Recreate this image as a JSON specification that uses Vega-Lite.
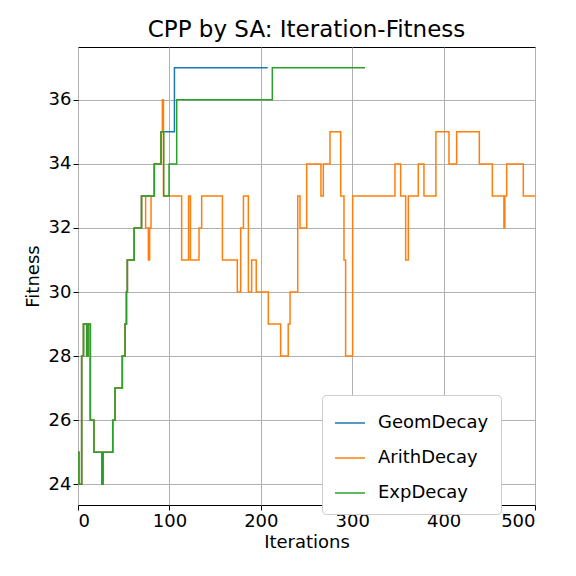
{
"$schema":"https://vega.github.io/schema/vega-lite/v6.json",
"width":457,"height":458,
"autosize":{"type":"none"},
"padding":{"left":78,"top":47,"right":41,"bottom":71},
"background":"white",
"title":{"text":"CPP by SA: Iteration-Fitness","fontSize":23,"font":"DejaVu Sans","fontWeight":"normal","offset":5,"color":"black"},
"config":{"view":{"stroke":"black","strokeWidth":1},"font":"DejaVu Sans"},
"data":{"values":[
{"s":"GeomDecay","x":0,"y":25},{"s":"GeomDecay","x":1,"y":24},{"s":"GeomDecay","x":4,"y":28},{"s":"GeomDecay","x":6,"y":29},{"s":"GeomDecay","x":9.5,"y":28},{"s":"GeomDecay","x":11,"y":29},{"s":"GeomDecay","x":13.5,"y":26},{"s":"GeomDecay","x":17.5,"y":25},{"s":"GeomDecay","x":26,"y":24},{"s":"GeomDecay","x":27.5,"y":25},{"s":"GeomDecay","x":38,"y":26},{"s":"GeomDecay","x":40.5,"y":27},{"s":"GeomDecay","x":48.5,"y":28},{"s":"GeomDecay","x":51.5,"y":29},{"s":"GeomDecay","x":53,"y":30},{"s":"GeomDecay","x":54,"y":31},{"s":"GeomDecay","x":61.5,"y":32},{"s":"GeomDecay","x":69.5,"y":33},{"s":"GeomDecay","x":83.5,"y":34},{"s":"GeomDecay","x":90.8,"y":35},{"s":"GeomDecay","x":105.5,"y":37},{"s":"GeomDecay","x":207.5,"y":37},

{"s":"ArithDecay","x":0,"y":25},{"s":"ArithDecay","x":1,"y":24},{"s":"ArithDecay","x":4,"y":28},{"s":"ArithDecay","x":6,"y":29},{"s":"ArithDecay","x":9.5,"y":28},{"s":"ArithDecay","x":11,"y":29},{"s":"ArithDecay","x":13.5,"y":26},{"s":"ArithDecay","x":17.5,"y":25},{"s":"ArithDecay","x":26,"y":24},{"s":"ArithDecay","x":27.5,"y":25},{"s":"ArithDecay","x":38,"y":26},{"s":"ArithDecay","x":40.5,"y":27},{"s":"ArithDecay","x":48.5,"y":28},{"s":"ArithDecay","x":51.5,"y":29},{"s":"ArithDecay","x":53,"y":30},{"s":"ArithDecay","x":54,"y":31},{"s":"ArithDecay","x":61.5,"y":32},{"s":"ArithDecay","x":69.5,"y":33},{"s":"ArithDecay","x":74,"y":32},{"s":"ArithDecay","x":77,"y":31},{"s":"ArithDecay","x":78.4,"y":32},{"s":"ArithDecay","x":79.9,"y":33},{"s":"ArithDecay","x":83.5,"y":34},{"s":"ArithDecay","x":90.8,"y":35},{"s":"ArithDecay","x":92.3,"y":36},{"s":"ArithDecay","x":93.5,"y":33},{"s":"ArithDecay","x":113.4,"y":31},{"s":"ArithDecay","x":121,"y":33},{"s":"ArithDecay","x":123,"y":31},{"s":"ArithDecay","x":132.4,"y":32},{"s":"ArithDecay","x":135.3,"y":33},{"s":"ArithDecay","x":158,"y":31},{"s":"ArithDecay","x":174.3,"y":30},{"s":"ArithDecay","x":178,"y":32},{"s":"ArithDecay","x":181,"y":33},{"s":"ArithDecay","x":186.4,"y":30},{"s":"ArithDecay","x":190,"y":31},{"s":"ArithDecay","x":195,"y":30},{"s":"ArithDecay","x":208.2,"y":29},{"s":"ArithDecay","x":221.7,"y":28},{"s":"ArithDecay","x":230,"y":29},{"s":"ArithDecay","x":232,"y":30},{"s":"ArithDecay","x":240.4,"y":33},{"s":"ArithDecay","x":242.9,"y":32},{"s":"ArithDecay","x":250.2,"y":34},{"s":"ArithDecay","x":265.8,"y":33},{"s":"ArithDecay","x":268.4,"y":34},{"s":"ArithDecay","x":275.7,"y":35},{"s":"ArithDecay","x":287.4,"y":33},{"s":"ArithDecay","x":291,"y":31},{"s":"ArithDecay","x":292.8,"y":28},{"s":"ArithDecay","x":300.5,"y":33},{"s":"ArithDecay","x":346.8,"y":34},{"s":"ArithDecay","x":353,"y":33},{"s":"ArithDecay","x":358.5,"y":31},{"s":"ArithDecay","x":361.4,"y":33},{"s":"ArithDecay","x":372.3,"y":34},{"s":"ArithDecay","x":378.5,"y":33},{"s":"ArithDecay","x":391.6,"y":35},{"s":"ArithDecay","x":405.9,"y":34},{"s":"ArithDecay","x":414.3,"y":35},{"s":"ArithDecay","x":439.1,"y":34},{"s":"ArithDecay","x":453.3,"y":33},{"s":"ArithDecay","x":466,"y":32},{"s":"ArithDecay","x":467,"y":33},{"s":"ArithDecay","x":469,"y":34},{"s":"ArithDecay","x":487.2,"y":33},{"s":"ArithDecay","x":500,"y":33},

{"s":"ExpDecay","x":0,"y":25},{"s":"ExpDecay","x":1,"y":24},{"s":"ExpDecay","x":4,"y":28},{"s":"ExpDecay","x":6,"y":29},{"s":"ExpDecay","x":9.5,"y":28},{"s":"ExpDecay","x":11,"y":29},{"s":"ExpDecay","x":13.5,"y":26},{"s":"ExpDecay","x":17.5,"y":25},{"s":"ExpDecay","x":26,"y":24},{"s":"ExpDecay","x":27.5,"y":25},{"s":"ExpDecay","x":38,"y":26},{"s":"ExpDecay","x":40.5,"y":27},{"s":"ExpDecay","x":48.5,"y":28},{"s":"ExpDecay","x":51.5,"y":29},{"s":"ExpDecay","x":53,"y":30},{"s":"ExpDecay","x":54,"y":31},{"s":"ExpDecay","x":61.5,"y":32},{"s":"ExpDecay","x":69.5,"y":33},{"s":"ExpDecay","x":83.5,"y":34},{"s":"ExpDecay","x":90.8,"y":35},{"s":"ExpDecay","x":93.8,"y":33},{"s":"ExpDecay","x":99.6,"y":34},{"s":"ExpDecay","x":108,"y":36},{"s":"ExpDecay","x":212.6,"y":37},{"s":"ExpDecay","x":314,"y":37}
]},
"mark":{"type":"line","interpolate":"step-after","strokeWidth":1.5,"clip":true},
"encoding":{
"x":{"field":"x","type":"quantitative","scale":{"domain":[0,500],"nice":false,"zero":false},"axis":{"title":"Iterations","values":[0,100,200,300,400,500],"titleFontSize":18,"titleFontWeight":"normal","labelFontSize":18,"gridColor":"#b0b0b0","gridOpacity":1,"domain":false,"tickColor":"black","labelColor":"black","titleColor":"black","titlePadding":3}},
"y":{"field":"y","type":"quantitative","scale":{"domain":[23.35,37.65],"nice":false,"zero":false},"axis":{"title":"Fitness","values":[24,26,28,30,32,34,36],"titleFontSize":18,"titleFontWeight":"normal","labelFontSize":18,"gridColor":"#b0b0b0","gridOpacity":1,"domain":false,"tickColor":"black","labelColor":"black","titleColor":"black","titlePadding":6}},
"color":{"field":"s","type":"nominal","scale":{"domain":["GeomDecay","ArithDecay","ExpDecay"],"range":["#1f77b4","#ff7f0e","#2ca02c"]},"legend":{"title":null,"orient":"none","legendX":244,"legendY":348,"labelFontSize":18,"labelColor":"black","symbolType":"stroke","symbolSize":900,"symbolStrokeWidth":1.5,"rowPadding":10,"labelOffset":12,"fillColor":"white","strokeColor":"#cccccc","padding":12,"cornerRadius":4}}
}
}
